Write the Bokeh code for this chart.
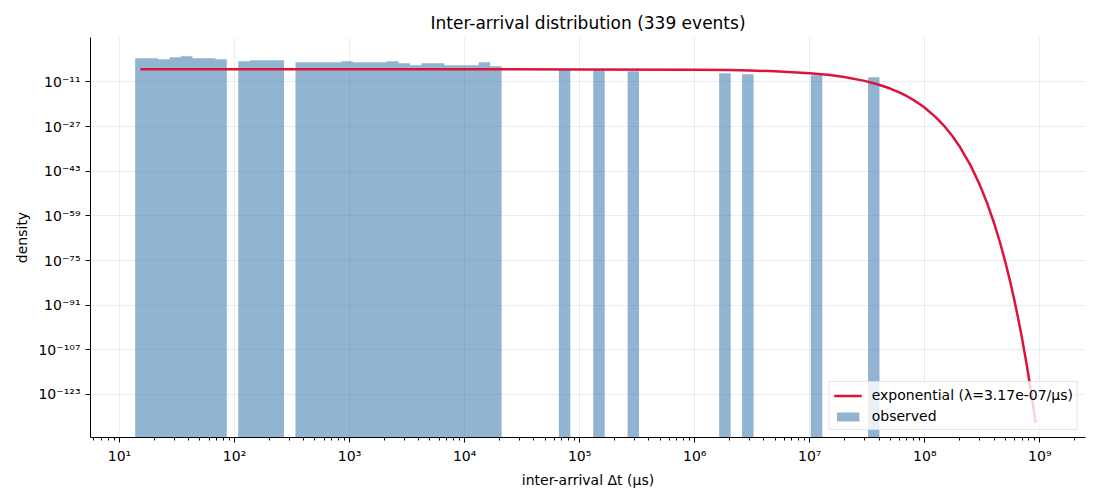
#Script to plot the inter-arrival histogram with its exponential fit using bokeh

##### IMPORT NECESSARY MODULES #####
import numpy as np

from bokeh.plotting import figure
from bokeh.models import FixedTicker, Range1d, Legend, LegendItem
from bokeh.embed import file_html
from bokeh.resources import INLINE

#### DATA ####
#histogram: 65 log-spaced bins between the smallest and the largest gap (us)
edge_lo = 13.69
edge_hi = 4.04e7
n_bins = 65

#non-empty bins (index into the bins) and their density
bin_index = [0, 1, 2, 3, 4, 5, 6, 7,
             9, 10, 11, 12,
             14, 15, 16, 17, 18, 19, 20, 21, 22, 23, 24, 25, 26, 27, 28, 29, 30, 31,
             37, 40, 43, 51, 53, 59, 64]
density = [3.1e-3, 3.1e-3, 1.35e-3, 7.1e-3, 1.6e-2, 3.1e-3, 3.1e-3, 1.35e-3,
           2.6e-4, 6.0e-4, 6.0e-4, 6.0e-4,
           1.15e-4, 1.15e-4, 1.15e-4, 1.15e-4, 2.6e-4, 1.15e-4, 1.15e-4, 1.15e-4,
           2.6e-4, 5.0e-5, 9.5e-6, 5.0e-5, 5.0e-5, 9.5e-6, 9.5e-6, 9.5e-6, 1.15e-4, 4.3e-6,
           2.0e-7, 2.0e-7, 6.8e-8, 1.3e-8, 5.8e-9, 2.5e-9, 4.8e-10]

#exponential fit curve
fit_label = "exponential (\u03bb=3.17e-07/\u03bcs)"
fit_x = [15.2, 1e2, 1e3, 1e4, 1e5, 1e6, 2e6, 3e6, 5e6, 1e7, 1.5e7, 2e7, 3e7, 4e7,
         5e7, 6e7, 7e7, 8e7, 9e7, 1e8, 1.25e8, 1.5e8, 1.75e8, 2e8, 2.5e8, 3e8,
         3.5e8, 4e8, 4.5e8, 5e8, 5.5e8, 6e8, 6.5e8, 7e8, 7.5e8, 8e8, 8.5e8, 9.2e8]
fit_y = [3.17e-7, 3.17e-7, 3.17e-7, 3.16e-7, 3.07e-7, 2.31e-7, 1.68e-7, 1.22e-7,
         6.50e-8, 1.33e-8, 2.73e-9, 5.60e-10, 2.35e-11, 9.86e-13, 4.14e-14,
         1.74e-15, 7.31e-17, 3.07e-18, 1.29e-19, 5.42e-21, 1.96e-24, 7.08e-28,
         2.56e-31, 9.27e-35, 1.21e-41, 1.58e-48, 2.07e-55, 2.71e-62, 3.54e-69,
         4.63e-76, 6.05e-83, 7.92e-90, 1.04e-96, 1.35e-103, 1.77e-110,
         2.32e-117, 3.03e-124, 7.00e-134]

#tick exponents
x_exponents = [1, 2, 3, 4, 5, 6, 7, 8, 9]
y_exponents = [-11, -27, -43, -59, -75, -91, -107, -123]

#### HELPERS ####
SUP = str.maketrans("-0123456789", "\u207b\u2070\u00b9\u00b2\u00b3\u2074\u2075\u2076\u2077\u2078\u2079")

def power_label(e):
    return "10" + str(e).translate(SUP)

#### BUILD BARS ####
#neighbouring bins are joined into one stepped outline so no seams show between them
edges = np.logspace(np.log10(edge_lo), np.log10(edge_hi), n_bins + 1)
floor = 1e-150
runs = []
for i, d in zip(bin_index, density):
    if runs and runs[-1][-1][0] == i - 1:
        runs[-1].append((i, d))
    else:
        runs.append([(i, d)])

bar_xs = []
bar_ys = []
for run in runs:
    xs = [edges[run[0][0]]]
    ys = [floor]
    for i, d in run:
        xs += [edges[i], edges[i + 1]]
        ys += [d, d]
    xs.append(edges[run[-1][0] + 1])
    ys.append(floor)
    bar_xs.append(xs)
    bar_ys.append(ys)

#### PLOT ####
FONT = "DejaVu Sans"

p = figure(title="Inter-arrival distribution (339 events)",
           x_axis_type="log", y_axis_type="log",
           frame_width=995, frame_height=400,
           min_border_left=90, min_border_right=15, min_border_top=37, min_border_bottom=55,
           x_range=Range1d(10 ** 0.748, 10 ** 9.397),
           y_range=Range1d(10 ** -138.41, 10 ** 4.91),
           output_backend="svg", toolbar_location=None)

bars = p.patches(bar_xs, bar_ys, fill_color="steelblue", fill_alpha=0.6, line_color=None)
fit = p.line(fit_x, fit_y, line_color="crimson", line_width=2.5)

#title
p.title.align = "center"
p.title.text_font = FONT
p.title.text_font_size = "17px"
p.title.text_font_style = "normal"
p.title.text_color = "black"

#frame: only left and bottom spines
p.outline_line_color = None

#axes
x_ticks = [10.0 ** e for e in x_exponents]
x_minor = [m * 10.0 ** e for e in range(0, 10) for m in range(2, 10)]
p.xaxis.ticker = FixedTicker(ticks=x_ticks, minor_ticks=x_minor)
p.xaxis.major_label_overrides = {t: power_label(e) for t, e in zip(x_ticks, x_exponents)}

y_ticks = [10.0 ** e for e in y_exponents]
p.yaxis.ticker = FixedTicker(ticks=y_ticks)
p.yaxis.major_label_overrides = {t: power_label(e) for t, e in zip(y_ticks, y_exponents)}

p.xaxis.axis_label = "inter-arrival \u0394t (\u03bcs)"
p.yaxis.axis_label = "density"

for ax in [p.xaxis, p.yaxis]:
    ax.axis_line_color = "black"
    ax.major_tick_line_color = "black"
    ax.minor_tick_line_color = "black"
    ax.major_tick_in = 0
    ax.major_tick_out = 5
    ax.minor_tick_in = 0
    ax.minor_tick_out = 3
    ax.major_label_text_font = FONT
    ax.major_label_text_font_size = "14px"
    ax.major_label_text_color = "black"
    ax.axis_label_text_font = FONT
    ax.axis_label_text_font_size = "14px"
    ax.axis_label_text_font_style = "normal"
    ax.axis_label_text_color = "black"
p.yaxis.minor_tick_out = 0

#grid
p.grid.grid_line_color = "#b0b0b0"
p.grid.grid_line_alpha = 0.3
p.grid.grid_line_width = 0.8

#legend
legend = Legend(items=[LegendItem(label=fit_label, renderers=[fit]),
                       LegendItem(label="observed", renderers=[bars])],
                location="bottom_right")
legend.label_text_font = FONT
legend.label_text_font_size = "14px"
legend.label_text_color = "black"
legend.glyph_width = 28
legend.glyph_height = 11
legend.label_height = 18
legend.label_standoff = 10
legend.spacing = 3
legend.padding = 4
legend.margin = 7
legend.border_line_color = "#cccccc"
legend.background_fill_alpha = 0.8
p.add_layout(legend)

open("out.html", "w").write(file_html(p, INLINE))
